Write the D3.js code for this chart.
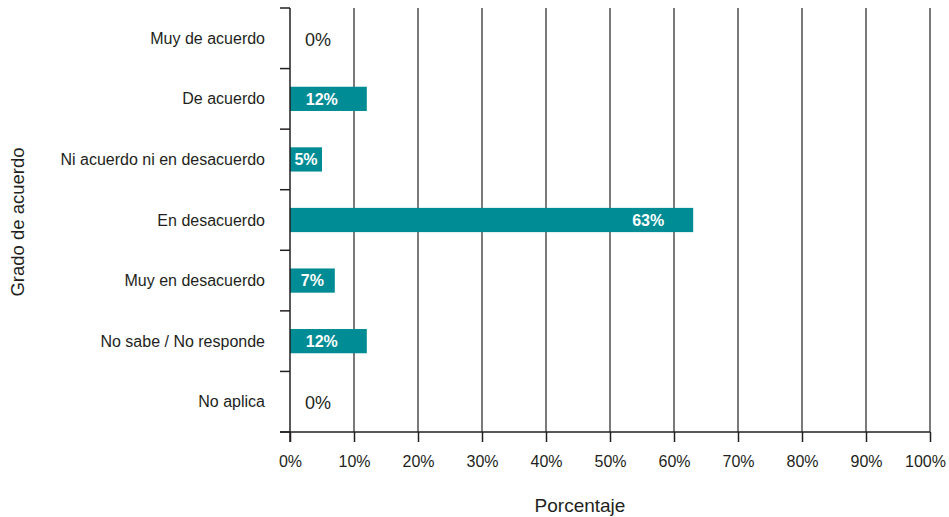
<!DOCTYPE html>
<html>
<head>
<meta charset="utf-8">
<script src="https://cdn.jsdelivr.net/npm/d3@7/dist/d3.min.js"></script>
<style>
  body { margin: 0; background: #fff; }
  svg { display: block; font-family: "Liberation Sans", Arial, Helvetica, sans-serif; }
</style>
</head>
<body>
<svg id="chart" width="949" height="517"></svg>
<script>
// Response categories (top to bottom) and their share in percent
const categories = [
  "Muy de acuerdo",
  "De acuerdo",
  "Ni acuerdo ni en desacuerdo",
  "En desacuerdo",
  "Muy en desacuerdo",
  "No sabe / No responde",
  "No aplica"
];
const values = [0, 12, 5, 63, 7, 12, 0];
const xTickValues = [0, 10, 20, 30, 40, 50, 60, 70, 80, 90, 100];
const xTitle = "Porcentaje";
const yTitle = "Grado de acuerdo";

const svg = d3.select("#chart");
const margin = { top: 8, left: 290, right: 19, bottom: 85 };
const width = 949 - margin.left - margin.right;
const height = 517 - margin.top - margin.bottom;

const g = svg.append("g").attr("transform", `translate(${margin.left},${margin.top})`);

const x = d3.scaleLinear().domain([0, 100]).range([0, width]);
const y = d3.scaleBand().domain(categories).range([0, height]).paddingInner(0.6).paddingOuter(0.3);
const yEdge = d3.scaleLinear().domain([0, categories.length]).range([0, height]);

const ink = "#231f20";
const teal = "#008c95";

// Vertical grid lines
g.append("g").selectAll("line")
  .data(xTickValues.slice(1))
  .join("line")
  .attr("x1", d => x(d)).attr("x2", d => x(d))
  .attr("y1", 0).attr("y2", height)
  .attr("stroke", ink).attr("stroke-width", 1.2);

// Bars
const data = categories.map((c, i) => ({ c, v: values[i] }));
g.append("g").selectAll("rect")
  .data(data.filter(d => d.v > 0))
  .join("rect")
  .attr("x", x(0))
  .attr("y", d => y(d.c))
  .attr("width", d => x(d.v) - x(0))
  .attr("height", y.bandwidth())
  .attr("fill", teal);

// Value labels: white bold inside bars, dark outside for zero values
g.append("g").selectAll("text")
  .data(data)
  .join("text")
  .attr("x", d => {
    if (d.v === 0) return x(0) + 15;
    const half = (String(d.v).length * 8.9 + 14.2) / 2;
    const nearEnd = x(d.v) - 45;
    return nearEnd < x(0) + half + 4 ? (x(0) + x(d.v)) / 2 : nearEnd;
  })
  .attr("y", d => y(d.c) + y.bandwidth() / 2)
  .attr("dy", d => d.v === 0 ? "0.42em" : "0.36em")
  .attr("text-anchor", d => d.v === 0 ? "start" : "middle")
  .attr("font-size", d => d.v === 0 ? 18 : 16)
  .attr("font-weight", d => d.v === 0 ? "normal" : "bold")
  .attr("fill", d => d.v === 0 ? ink : "#fff")
  .text(d => d.v + "%");

// Y axis: line with boundary ticks between categories
const yAxisG = g.append("g");
yAxisG.append("line")
  .attr("x1", 0).attr("x2", 0).attr("y1", 0).attr("y2", height + 10)
  .attr("stroke", ink).attr("stroke-width", 1.5);
yAxisG.selectAll("line.tick")
  .data(d3.range(categories.length + 1))
  .join("line")
  .attr("class", "tick")
  .attr("x1", -10).attr("x2", 0)
  .attr("y1", d => yEdge(d)).attr("y2", d => yEdge(d))
  .attr("stroke", ink).attr("stroke-width", 1.5);
yAxisG.selectAll("text")
  .data(categories)
  .join("text")
  .attr("x", -25)
  .attr("y", d => y(d) + y.bandwidth() / 2)
  .attr("dy", "0.35em")
  .attr("text-anchor", "end")
  .attr("font-size", 16)
  .attr("fill", ink)
  .text(d => d);

// X axis
const xAxis = d3.axisBottom(x)
  .tickValues(xTickValues)
  .tickFormat(d => d + "%")
  .tickSize(10)
  .tickPadding(14);
const xAxisG = g.append("g").attr("transform", `translate(0,${height})`).call(xAxis);
xAxisG.select(".domain").remove();
xAxisG.append("line")
  .attr("x1", -10).attr("x2", width).attr("y1", 0).attr("y2", 0)
  .attr("stroke", ink).attr("stroke-width", 1.5);
xAxisG.selectAll(".tick line").attr("stroke", ink).attr("stroke-width", 1.5);
xAxisG.selectAll(".tick text")
  .attr("font-size", 16)
  .attr("fill", ink)
  .attr("font-family", "'Liberation Sans', Arial, sans-serif")
  .attr("dx", d => d === 100 ? -5 : 0);

// Axis titles
svg.append("text")
  .attr("x", 580).attr("y", 512)
  .attr("text-anchor", "middle")
  .attr("font-size", 19)
  .attr("fill", ink)
  .text(xTitle);

svg.append("text")
  .attr("transform", "translate(24,222) rotate(-90)")
  .attr("text-anchor", "middle")
  .attr("font-size", 18.5)
  .attr("fill", ink)
  .text(yTitle);
</script>
</body>
</html>
